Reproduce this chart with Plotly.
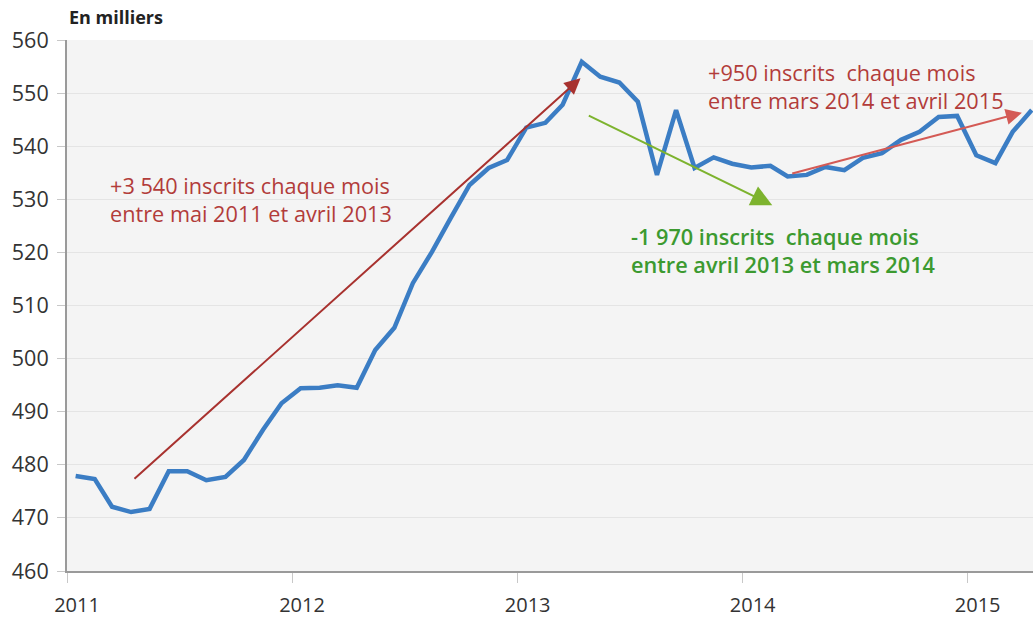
import plotly.graph_objects as go
import pandas as pd

# Monthly data, Jan 2011 - Apr 2015 (thousands), plotted mid-month
months = pd.date_range("2011-01-01", periods=52, freq="MS") + pd.Timedelta(days=14)
values = [
    477.9, 477.3, 472.1, 471.1, 471.7, 478.8, 478.8, 477.1, 477.7, 480.9, 486.6, 491.6,
    494.4, 494.5, 495.0, 494.5, 501.6, 505.8, 514.2, 520.1, 526.6, 532.7, 535.9, 537.4,
    543.5, 544.4, 547.8, 555.9, 553.1, 552.0, 548.4, 534.6, 546.8, 535.9, 537.9, 536.7,
    536.0, 536.3, 534.3, 534.6, 536.1, 535.5, 537.8, 538.7, 541.2, 542.7, 545.5, 545.7,
    538.3, 536.8, 542.7, 546.8,
]

year_ticks = ["2011-01-01", "2012-01-01", "2013-01-01", "2014-01-01", "2015-01-01"]
year_labels = ["2011", "2012", "2013", "2014", "2015"]
y_ticks = [460, 470, 480, 490, 500, 510, 520, 530, 540, 550, 560]

# Trend arrows: (start date, start value, end date, end value)
trend_up1 = ("2011-04-18", 477.1, "2013-04-13", 552.8)
trend_down = ("2013-04-24", 545.9, "2014-02-18", 528.9)
trend_up2 = ("2014-03-20", 534.8, "2015-03-30", 546.3)

# Trend labels: (text, left date, centre value, colour, weight)
trend_texts = [
    ("+3 540 inscrits chaque mois<br>entre mai 2011 et avril 2013", "2011-03-08", 529.9, "#b23c3a", 400),
    ("+950 inscrits  chaque mois<br>entre mars 2014 et avril 2015", "2013-11-03", 551.3, "#b23c3a", 400),
    ("-1 970 inscrits  chaque mois<br>entre avril 2013 et mars 2014", "2013-06-30", 520.3, "#3c9a30", 600),
]

fig = go.Figure()
fig.add_trace(go.Scatter(
    x=months, y=values, mode="lines",
    line=dict(color="#3b7dc4", width=4.5),
    hoverinfo="x+y", showlegend=False,
))

def arrow(t, color, width, size):
    return dict(
        x=t[2], y=t[3], ax=t[0], ay=t[1], xref="x", yref="y", axref="x", ayref="y",
        text="", showarrow=True, arrowhead=2, arrowsize=size, arrowwidth=width,
        arrowcolor=color, standoff=0, startstandoff=0,
    )

annotations = [
    arrow(trend_up1, "#a8322f", 2, 1.6),
    arrow(trend_down, "#7db32e", 2, 2.1),
    arrow(trend_up2, "#d45a55", 2, 1.6),
]
for txt, xd, yv, col, wt in trend_texts:
    annotations.append(dict(
        x=xd, y=yv, xref="x", yref="y", text=txt, showarrow=False,
        xanchor="left", yanchor="middle", align="left",
        font=dict(family="Open Sans", size=21.7, color=col, weight=wt),
    ))
annotations.append(dict(
    x=0, y=1, xref="paper", yref="paper", xanchor="left", yanchor="bottom", yshift=9,
    text="<b>En milliers</b>", showarrow=False,
    font=dict(family="Open Sans", size=18, color="#222"),
))

fig.update_layout(
    width=1033, height=619,
    margin=dict(l=67, r=0, t=40, b=48),
    paper_bgcolor="white", plot_bgcolor="#f4f4f4",
    annotations=annotations,
    font=dict(family="Open Sans", color="#333"),
    xaxis=dict(
        type="date", range=["2011-01-01", "2015-04-17"], automargin=False,
        tickvals=year_ticks, ticktext=year_labels,
        showgrid=False, zeroline=False,
        showline=True, linecolor="#9a9a9a", linewidth=2,
        ticks="outside", ticklen=10, tickcolor="#c8c8c8", tickwidth=1,
        ticklabelshift=10, ticklabelstandoff=5,
        tickfont=dict(family="Open Sans", size=20, color="#333"),
    ),
    yaxis=dict(
        range=[460, 560], tickvals=y_ticks, automargin=False,
        showgrid=True, gridcolor="#e4e4e4", gridwidth=1, zeroline=False,
        showline=True, linecolor="#9a9a9a", linewidth=2,
        ticks="outside", ticklen=8, tickcolor="#c8c8c8", tickwidth=1,
        ticklabelstandoff=4,
        tickfont=dict(family="Open Sans", size=21.5, color="#333"),
    ),
)

fig.write_html(
    "out.html",
    config={"displayModeBar": False},
    post_script="document.body.style.margin='0';document.body.style.overflow='hidden';",
)
